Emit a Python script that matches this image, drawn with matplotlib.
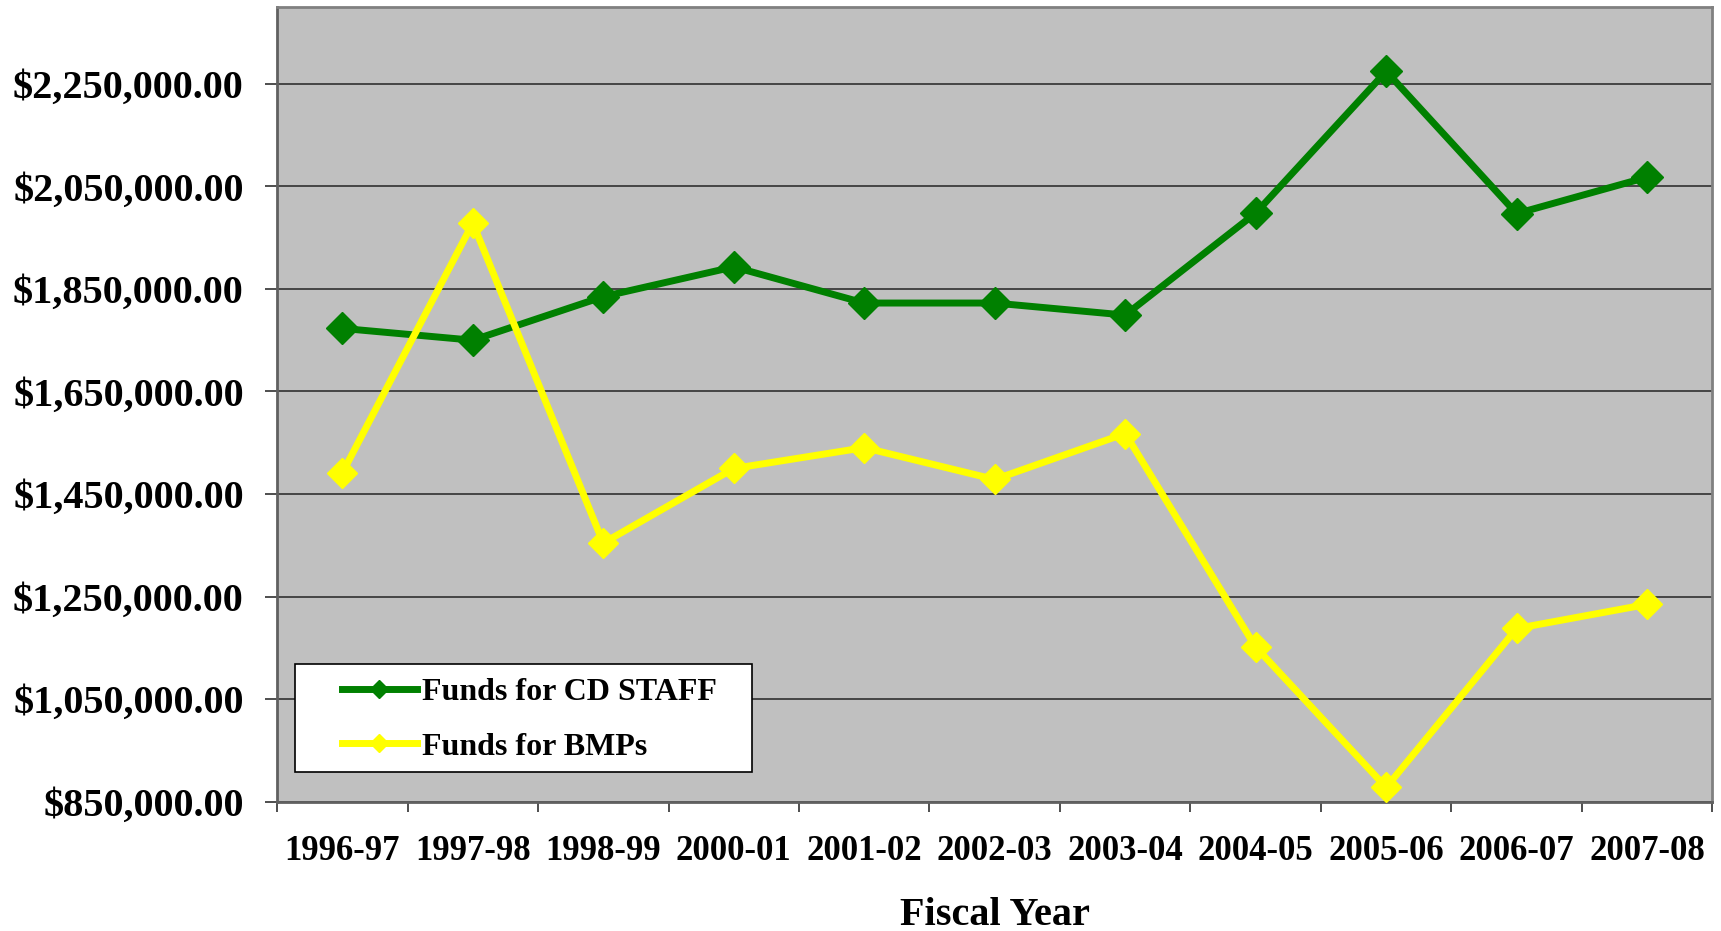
import matplotlib.pyplot as plt
from matplotlib.patches import Rectangle
from matplotlib.ticker import FuncFormatter, FixedLocator

years = ["1996-97", "1997-98", "1998-99", "2000-01", "2001-02", "2002-03",
         "2003-04", "2004-05", "2005-06", "2006-07", "2007-08"]
cd_staff = [1773000, 1750000, 1835000, 1893000, 1822500, 1822500,
            1799000, 1998000, 2274500, 1997000, 2068000]
bmps = [1491000, 1978500, 1354400, 1499800, 1540400, 1478400,
        1568000, 1151400, 877700, 1187700, 1234700]
y_ticks = [850000, 1050000, 1250000, 1450000, 1650000, 1850000, 2050000, 2250000]

plt.rcParams["font.family"] = ["Liberation Serif", "DejaVu Serif"]
plt.rcParams["font.weight"] = "bold"

fig = plt.figure(figsize=(17.21, 9.31), dpi=100)
ax = fig.add_axes([0.161, 0.139, 0.834, 0.8535])
ax.set_facecolor("#C0C0C0")

x = list(range(len(years)))
ax.plot(x, cd_staff, color="#008000", linewidth=5, marker="D", markersize=16,
        label="Funds for CD STAFF", zorder=3)
ax.plot(x, bmps, color="#FFFF00", linewidth=5, marker="D", markersize=15,
        label="Funds for BMPs", zorder=3)

ax.set_xlim(-0.5, len(years) - 0.5)
ax.set_ylim(850000, 2400000)

ax.set_yticks(y_ticks)
ax.yaxis.set_major_formatter(FuncFormatter(lambda v, p: f"${v:,.2f}"))
ax.grid(axis="y", color="#303030", linewidth=1.2, zorder=1)
ax.set_axisbelow(True)

ax.set_xticks(x)
ax.set_xticklabels(years)
ax.xaxis.set_minor_locator(FixedLocator([i - 0.5 for i in range(len(years) + 1)]))
ax.tick_params(axis="x", which="major", length=0, pad=24, labelsize=25)
ax.tick_params(axis="x", which="minor", length=7, width=1.2, color="#303030")
ax.tick_params(axis="y", length=9, width=1.2, color="#303030", pad=15, labelsize=29)

for side in ["left", "bottom"]:
    ax.spines[side].set_color("#606060")
    ax.spines[side].set_linewidth(2)
for side in ["top", "right"]:
    ax.spines[side].set_color("#808080")
    ax.spines[side].set_linewidth(2)

ax.set_xlabel("Fiscal Year", fontsize=29, fontweight="bold", labelpad=21)

# legend box (white frame), legend entries drawn without their own frame
ax.add_patch(Rectangle((0.0125, 0.0374), 0.3185, 0.136, transform=ax.transAxes,
                       facecolor="white", edgecolor="black", linewidth=1.2, zorder=4))
leg = ax.legend(loc="center left", bbox_to_anchor=(0.045, 0.103), fontsize=23,
                frameon=False, handlelength=2.35, borderpad=0, labelspacing=0.78,
                handletextpad=0.15, markerscale=0.6, borderaxespad=0)
leg.set_zorder(5)

fig.savefig("out.png", dpi=100)
